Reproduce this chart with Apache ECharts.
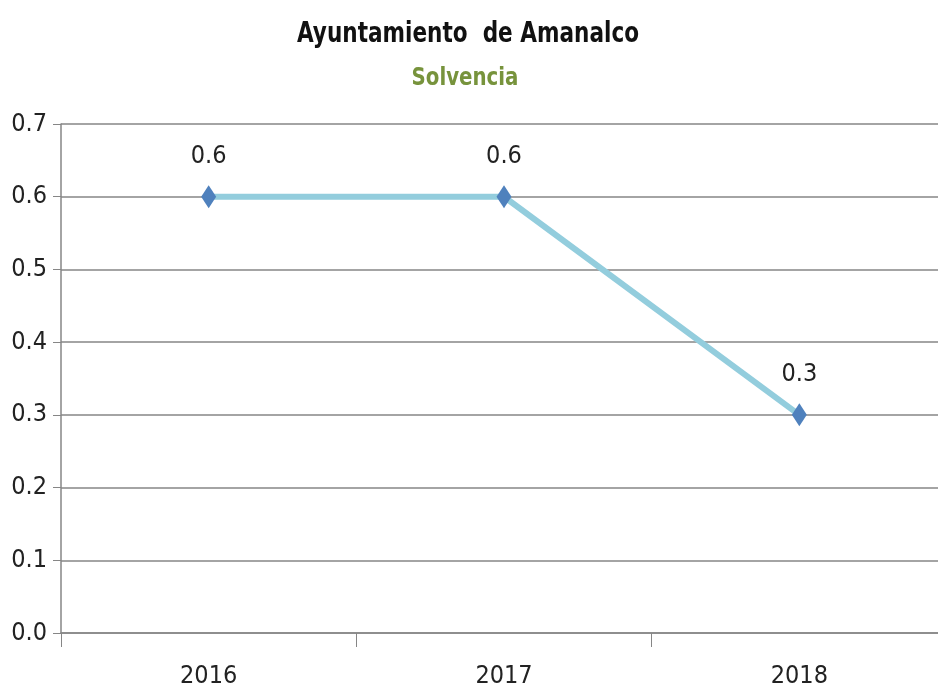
<!DOCTYPE html>
<html>
<head>
<meta charset="utf-8">
<script src="https://cdn.jsdelivr.net/npm/echarts@6/dist/echarts.min.js"></script>
<style>html,body{margin:0;padding:0;background:#fff;}#c{width:938px;height:692px;}</style>
</head>
<body>
<div id="c"></div>
<script>
const titleText = 'Ayuntamiento  de Amanalco';
const subtitleText = 'Solvencia';
const categories = ['2016', '2017', '2018'];
const solvencia = [0.6, 0.6, 0.3];

const FONT = "'Liberation Sans Narrow', 'DejaVu Sans Condensed', sans-serif";
const chart = echarts.init(document.getElementById('c'), null, {renderer: 'canvas'});
chart.setOption({
  backgroundColor: '#ffffff',
  animation: false,
  graphic: [
    {type: 'text', x: 468, y: 35, scaleY: 1.2, style: {text: titleText, fontFamily: FONT, fontSize: 24, fontWeight: 'bold', fill: '#111', align: 'center', verticalAlign: 'middle'}},
    {type: 'text', x: 465, y: 79, scaleY: 1.1, style: {text: subtitleText, fontFamily: FONT, fontSize: 22, fontWeight: 'bold', fill: '#77933C', align: 'center', verticalAlign: 'middle'}}
  ],
  grid: {left: 61, width: 886, top: 124, bottom: 59, containLabel: false, outerBoundsMode: 'none'},
  xAxis: {
    type: 'category',
    data: categories,
    boundaryGap: true,
    axisLine: {show: true, lineStyle: {color: '#868686', width: 1.5}},
    axisTick: {show: true, alignWithLabel: false, length: 14, lineStyle: {color: '#868686'}},
    axisLabel: {fontFamily: FONT, fontSize: 25, color: '#222', margin: 31},
    splitLine: {show: false}
  },
  yAxis: {
    type: 'value',
    min: 0,
    max: 0.7,
    interval: 0.1,
    axisLine: {show: true, lineStyle: {color: '#868686', width: 1.5}},
    axisTick: {show: true, length: 8, lineStyle: {color: '#868686'}},
    axisLabel: {fontFamily: FONT, fontSize: 25, color: '#222', margin: 14,
      formatter: v => v.toFixed(1)},
    splitLine: {show: true, lineStyle: {color: '#868686', width: 1.5}}
  },
  series: [{
    type: 'line',
    data: solvencia,
    symbol: 'diamond',
    symbolSize: [15, 23],
    z: 3,
    itemStyle: {color: '#4F81BD'},
    lineStyle: {color: '#93CDDD', width: 6},
    label: {show: true, position: 'top', distance: 16, fontFamily: FONT, fontSize: 25, color: '#222',
      formatter: p => p.value.toFixed(1)}
  }]
});
</script>
</body>
</html>
